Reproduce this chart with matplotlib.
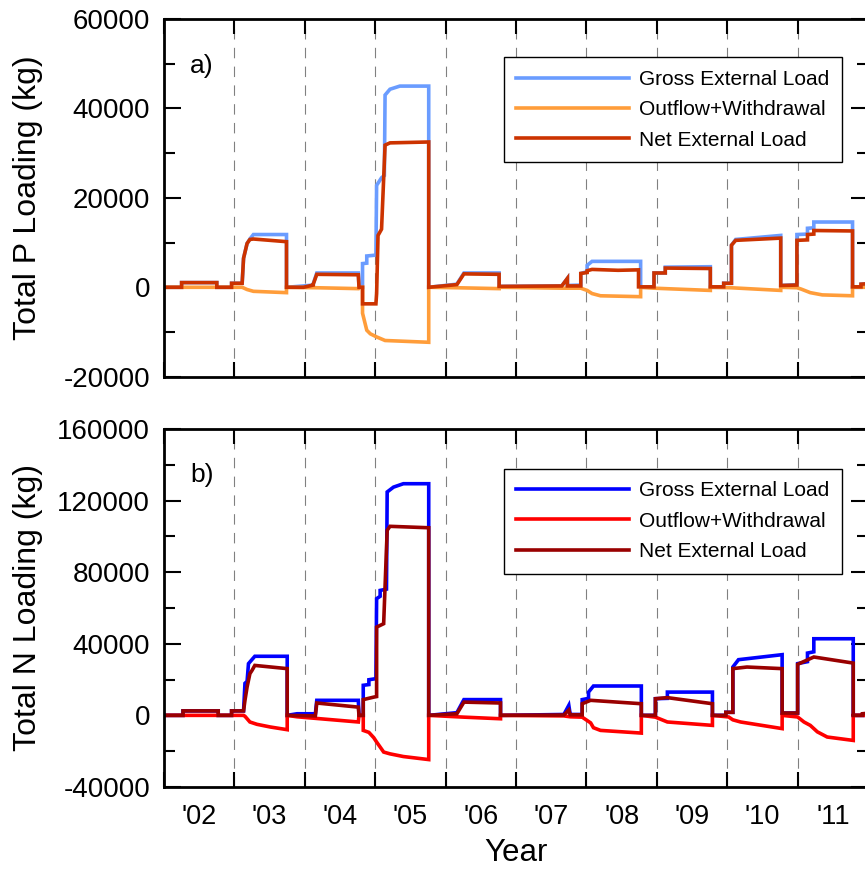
import matplotlib
matplotlib.use("Agg")
import matplotlib.pyplot as plt
from matplotlib.ticker import MultipleLocator, FixedLocator, NullFormatter, FixedFormatter

plt.rcParams["font.family"] = ["Liberation Sans", "DejaVu Sans"]
plt.rcParams["axes.unicode_minus"] = False

# water years run Oct-Sep; x is decimal calendar year
year_edges = [2001.75 + i for i in range(11)]
year_mids = [2002.25 + i for i in range(10)]
year_labels = ["'02", "'03", "'04", "'05", "'06", "'07", "'08", "'09", "'10", "'11"]

# ---- total phosphorus (kg) ----
p_gross_t = [2001.75, 2002.00, 2002.00, 2002.50, 2002.50, 2002.71, 2002.71, 2002.86, 2002.88, 2002.93,
             2002.97, 2003.02, 2003.49, 2003.49, 2003.73, 2003.87, 2003.87, 2003.92, 2004.51, 2004.52,
             2004.57, 2004.57, 2004.63, 2004.63, 2004.76, 2004.77, 2004.84, 2004.88, 2004.89, 2004.96,
             2005.10, 2005.51, 2005.51, 2005.91, 2006.01, 2006.51, 2006.51, 2007.40, 2007.48, 2007.48,
             2007.67, 2007.67, 2007.76, 2007.76, 2007.83, 2008.52, 2008.52, 2008.71, 2008.71, 2008.87,
             2008.87, 2009.51, 2009.51, 2009.70, 2009.70, 2009.81, 2009.81, 2009.87, 2010.51, 2010.51,
             2010.74, 2010.74, 2010.89, 2010.89, 2010.98, 2010.98, 2011.53, 2011.53, 2011.65, 2011.65,
             2011.75]
p_gross_v = [0, 0, 1050, 1050, 0, 0, 900, 900, 6500, 9800,
             10800, 11800, 11800, 0, 300, 500, 800, 3200, 3200, 0,
             0, 5300, 5400, 7000, 7200, 22800, 24500, 25000, 43000, 44300,
             45000, 45000, 0, 700, 3200, 3200, 200, 300, 2000, 400,
             500, 3100, 3500, 4900, 5800, 5800, 0, 0, 3200, 3200,
             4500, 4600, 0, 0, 900, 900, 9400, 10700, 11600, 400,
             600, 11800, 11900, 13200, 13300, 14600, 14600, 0, 0, 700,
             800]

p_out_t = [2001.75, 2002.86, 2002.93, 2003.02, 2003.49, 2003.49, 2003.92, 2004.51, 2004.52, 2004.57,
           2004.57, 2004.63, 2004.68, 2004.77, 2004.89, 2005.51, 2005.51, 2005.91, 2006.51, 2006.51,
           2007.40, 2007.67, 2007.76, 2007.83, 2007.95, 2008.52, 2008.52, 2008.71, 2009.51, 2009.51,
           2009.80, 2010.51, 2010.51, 2010.74, 2010.80, 2010.93, 2011.10, 2011.53, 2011.53, 2011.75]
p_out_v = [0, 0, -500, -900, -1200, 0, -100, -300, 0, 0,
           -5800, -9600, -10400, -11100, -11900, -12300, 0, -100, -300, 0,
           -200, -200, -700, -1400, -1900, -2100, 0, -200, -700, 0,
           -100, -700, 0, -100, -400, -1200, -1700, -1900, 0, 0]

p_net_t = [2001.75, 2002.00, 2002.00, 2002.50, 2002.50, 2002.71, 2002.71, 2002.86, 2002.88, 2002.93,
           2002.97, 2003.02, 2003.49, 2003.49, 2003.73, 2003.87, 2003.87, 2003.92, 2004.51, 2004.52,
           2004.57, 2004.57, 2004.76, 2004.77, 2004.79, 2004.84, 2004.89, 2004.96, 2005.51, 2005.51,
           2005.91, 2006.01, 2006.51, 2006.51, 2007.40, 2007.48, 2007.48, 2007.67, 2007.67, 2007.76,
           2007.76, 2007.83, 2008.20, 2008.49, 2008.49, 2008.71, 2008.71, 2008.87, 2008.87, 2009.51,
           2009.51, 2009.70, 2009.70, 2009.81, 2009.81, 2009.87, 2010.51, 2010.51, 2010.74, 2010.74,
           2010.89, 2010.89, 2010.98, 2010.98, 2011.53, 2011.53, 2011.65, 2011.65, 2011.75]
p_net_v = [0, 0, 1050, 1050, 0, 0, 900, 900, 6500, 9800,
           10700, 10800, 10200, 0, 0, 500, 700, 2900, 2800, 0,
           0, -3700, -3700, -1400, 11600, 13000, 31800, 32300, 32500, 0,
           600, 3000, 2900, 200, 300, 2000, 300, 300, 3100, 3300,
           3700, 4000, 3800, 3900, 100, 100, 3200, 3200, 4300, 4200,
           100, 100, 900, 900, 9400, 10500, 11000, 400, 500, 10500,
           10600, 11800, 11900, 12700, 12600, 100, 100, 700, 800]

# ---- total nitrogen (kg) ----
n_gross_t = [2001.75, 2002.02, 2002.02, 2002.52, 2002.52, 2002.71, 2002.71, 2002.88, 2002.90, 2002.93,
             2002.95, 2003.04, 2003.50, 2003.50, 2003.64, 2003.90, 2003.92, 2004.51, 2004.52, 2004.58,
             2004.58, 2004.66, 2004.66, 2004.76, 2004.77, 2004.82, 2004.82, 2004.91, 2004.92, 2005.01,
             2005.15, 2005.51, 2005.51, 2005.91, 2006.01, 2006.53, 2006.53, 2007.43, 2007.50, 2007.52,
             2007.69, 2007.69, 2007.78, 2007.78, 2007.85, 2008.53, 2008.53, 2008.73, 2008.73, 2008.90,
             2008.90, 2009.54, 2009.54, 2009.73, 2009.73, 2009.83, 2009.83, 2009.91, 2010.53, 2010.53,
             2010.75, 2010.75, 2010.89, 2010.89, 2010.98, 2010.98, 2011.54, 2011.54, 2011.75]
n_gross_v = [0, 0, 2500, 2500, 0, 0, 2500, 2500, 17900, 19000,
             28900, 33000, 33000, 0, 900, 900, 8400, 8400, 0, 0,
             16800, 17200, 19900, 20500, 65200, 66500, 69800, 70500, 124800, 127500,
             129400, 129400, 0, 1500, 8800, 8800, 0, 500, 5600, 500,
             500, 8800, 9500, 13000, 16400, 16400, 0, 0, 9300, 9500,
             13000, 13000, 0, 0, 1700, 1700, 27000, 31100, 33900, 1300,
             1300, 28900, 30000, 34800, 35500, 42800, 42800, 0, 0]

n_out_t = [2001.75, 2002.88, 2002.90, 2002.97, 2003.07, 2003.26, 2003.50, 2003.50, 2003.64, 2004.51,
           2004.52, 2004.58, 2004.58, 2004.66, 2004.73, 2004.77, 2004.87, 2004.96, 2005.15, 2005.51,
           2005.51, 2006.01, 2006.53, 2006.53, 2007.43, 2007.52, 2007.69, 2007.81, 2007.85, 2007.95,
           2008.53, 2008.53, 2008.73, 2008.90, 2009.54, 2009.54, 2009.77, 2009.83, 2009.94, 2010.53,
           2010.53, 2010.75, 2010.84, 2010.93, 2011.03, 2011.17, 2011.54, 2011.54, 2011.75]
n_out_v = [0, 0, -500, -3700, -5000, -6500, -8000, 0, -800, -3700,
           0, 0, -8400, -9500, -12500, -14900, -20500, -21500, -23000, -24700,
           0, -1000, -1900, 0, -300, -800, -1000, -4200, -6900, -8400,
           -9900, 0, -1000, -3700, -5600, 0, -900, -2500, -3700, -7400,
           0, -900, -3700, -5600, -9200, -12100, -14000, 0, 0]

n_net_t = [2001.75, 2002.02, 2002.02, 2002.52, 2002.52, 2002.71, 2002.71, 2002.88, 2002.90, 2002.93,
           2002.97, 2003.00, 2003.04, 2003.50, 2003.50, 2003.90, 2003.92, 2004.51, 2004.52, 2004.58,
           2004.58, 2004.73, 2004.77, 2004.77, 2004.87, 2004.92, 2004.96, 2005.51, 2005.51, 2005.91,
           2006.01, 2006.53, 2006.53, 2007.43, 2007.50, 2007.52, 2007.69, 2007.69, 2007.81, 2008.53,
           2008.53, 2008.73, 2008.73, 2008.90, 2009.54, 2009.54, 2009.73, 2009.73, 2009.83, 2009.83,
           2010.03, 2010.53, 2010.53, 2010.75, 2010.75, 2010.98, 2011.54, 2011.54, 2011.67, 2011.67,
           2011.75]
n_net_v = [0, 0, 2500, 2500, 0, 0, 2500, 2500, 8400, 15800,
           23300, 25100, 27900, 26100, 0, -300, 6900, 4600, 0, 0,
           8800, 10200, 10500, 49300, 51200, 103400, 105600, 104800, 0, 900,
           7400, 6900, 0, 200, 3000, 300, 300, 6500, 8400, 6500,
           0, 0, 9300, 9900, 6500, 0, 0, 1700, 1700, 26100,
           27000, 26100, 1300, 1300, 28500, 32600, 29200, 0, 0, 900,
           1200]

series_labels = ["Gross External Load", "Outflow+Withdrawal", "Net External Load"]
p_colors = ["#6a9cff", "#ff9d3a", "#cc3300"]
n_colors = ["#0000ff", "#ff0000", "#990000"]

fig = plt.figure(figsize=(8.65, 8.69), dpi=100)
ax_p = fig.add_axes([0.1896, 0.5665, 0.8139, 0.4116])
ax_n = fig.add_axes([0.1896, 0.0944, 0.8139, 0.4120])


def draw_panel(ax, series, colors, ylim, major, tag, tag_y, ylabel, leg_y):
    for (t, v), c, lab in zip(series, colors, series_labels):
        ax.plot(t, v, color=c, lw=2.6, label=lab, solid_joinstyle="miter")
    ax.set_xlim(year_edges[0], year_edges[-1])
    ax.set_ylim(*ylim)
    ax.yaxis.set_major_locator(MultipleLocator(major))
    ax.yaxis.set_minor_locator(MultipleLocator(major / 2))
    ax.xaxis.set_major_locator(FixedLocator(year_edges))
    ax.xaxis.set_major_formatter(NullFormatter())
    ax.xaxis.set_minor_locator(FixedLocator(year_mids))
    ax.tick_params(which="both", direction="in", top=True, right=True, width=1.5)
    ax.tick_params(axis="y", which="major", length=12.5, labelsize=20, pad=10)
    ax.tick_params(axis="y", which="minor", length=8)
    ax.tick_params(axis="x", which="major", length=11)
    ax.tick_params(axis="x", which="minor", length=0, labelsize=19.5, pad=12.5)
    for s in ax.spines.values():
        s.set_linewidth(2.0)
    for xe in year_edges[1:-1]:
        ax.axvline(xe, color="#808080", lw=0.8, ls=(0, (9.4, 7.5)), zorder=1)
    ax.text(0.037, tag_y, tag, transform=ax.transAxes, fontsize=19, va="center", ha="left")
    ax.set_ylabel(ylabel, fontsize=23)
    ax.yaxis.set_label_coords(-0.172, 0.5)
    leg = ax.legend(loc="upper right", bbox_to_anchor=(0.9627, leg_y), borderaxespad=0,
                    fontsize=15, handlelength=5.4, handletextpad=0.5, labelspacing=0.55,
                    borderpad=0.6, fancybox=False, framealpha=1, edgecolor="black")
    leg.get_frame().set_linewidth(1.0)


draw_panel(ax_p, [(p_gross_t, p_gross_v), (p_out_t, p_out_v), (p_net_t, p_net_v)],
           p_colors, (-20000, 60000), 20000, "a)", 0.868, "Total P Loading (kg)", 0.893)
ax_p.xaxis.set_minor_formatter(NullFormatter())

draw_panel(ax_n, [(n_gross_t, n_gross_v), (n_out_t, n_out_v), (n_net_t, n_net_v)],
           n_colors, (-40000, 160000), 40000, "b)", 0.872, "Total N Loading (kg)", 0.889)
ax_n.xaxis.set_minor_formatter(FixedFormatter(year_labels))
ax_n.set_xlabel("Year", fontsize=22.5)
ax_n.xaxis.set_label_coords(0.5, -0.142)

fig.savefig("out.png", dpi=100)
